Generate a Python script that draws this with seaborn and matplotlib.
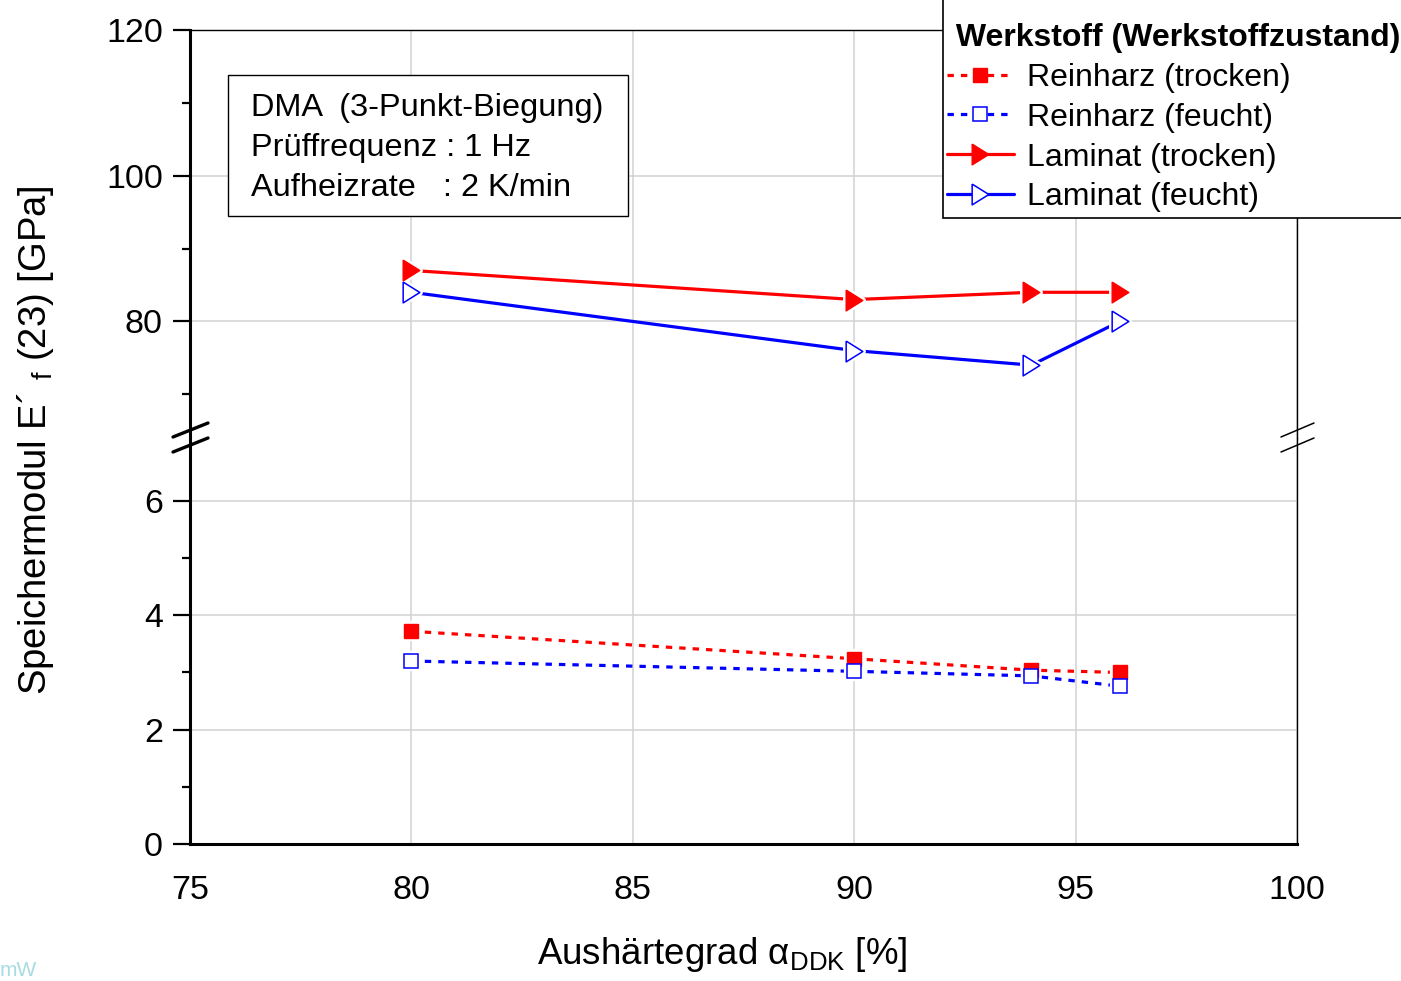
import matplotlib
matplotlib.use("Agg")
import matplotlib.pyplot as plt
from matplotlib.lines import Line2D
from matplotlib.patches import Rectangle
from matplotlib.ticker import MultipleLocator, FixedLocator
import seaborn as sns

# ---------------- data ----------------
aushaertegrad = [80, 90, 94, 96]
reinharz_trocken = [3.72, 3.24, 3.04, 3.00]
reinharz_feucht = [3.20, 3.02, 2.94, 2.76]
laminat_trocken = [87.0, 83.0, 84.0, 84.0]
laminat_feucht = [84.0, 76.0, 74.0, 80.0]

series_labels = ["Reinharz (trocken)", "Reinharz (feucht)",
                 "Laminat (trocken)", "Laminat (feucht)"]
legend_title = " Werkstoff (Werkstoffzustand)"
x_ticks = [75, 80, 85, 90, 95, 100]
y_ticks_low = [0, 2, 4, 6]
y_minor_low = [1, 3, 5]
y_ticks_up = [80, 100, 120]
y_minor_up = [70, 90, 110]
info_lines = ["DMA  (3-Punkt-Biegung)", "Prüffrequenz : 1 Hz",
              "Aufheizrate   : 2 K/min"]
x_label = "Aushärtegrad α$_{\\mathregular{DDK}}$ [%]"
y_label = "Speichermodul E´ $_{\\mathregular{f}}$ (23) [GPa]"

# ---------------- style ----------------
sns.set_theme(style="white")
plt.rcParams["font.family"] = ["Liberation Sans", "DejaVu Sans"]
plt.rcParams["mathtext.fontset"] = "custom"
plt.rcParams["mathtext.rm"] = "Liberation Sans"
plt.rcParams["mathtext.it"] = "Liberation Sans"
plt.rcParams["mathtext.default"] = "regular"
for key in ("text.color", "axes.labelcolor", "xtick.color", "ytick.color",
            "legend.labelcolor"):
    plt.rcParams[key] = "black"

W, H = 1401, 981
fig = plt.figure(figsize=(W / 100, H / 100), dpi=100)
fig.patch.set_facecolor("white")


def fx(px):
    return px / W


def fy(py):
    return 1 - py / H


L, R, T, B, BRK = 190, 1297, 30, 844, 438
ax_up = fig.add_axes([fx(L), fy(BRK), fx(R) - fx(L), fy(T) - fy(BRK)])
ax_low = fig.add_axes([fx(L), fy(B), fx(R) - fx(L), fy(BRK) - fy(B)])

RED = "#ff0000"
BLUE = "#0000ff"
tri = [(-0.8, 1.0), (0.8, 0.0), (-0.8, -1.0), (-0.8, 1.0)]
dotted = (0, (2.0, 2.2))

specs = [
    (ax_low, reinharz_trocken, RED, dotted, "s", 10.5, RED, 1.0),
    (ax_low, reinharz_feucht, BLUE, dotted, "s", 10.5, "white", 1.1),
    (ax_up, laminat_trocken, RED, "-", tri, 15, RED, 1.0),
    (ax_up, laminat_feucht, BLUE, "-", tri, 15, "white", 1.1),
]

for ax, yvals, col, ls, mk, ms, face, mew in specs:
    sns.lineplot(x=aushaertegrad, y=yvals, ax=ax, color=col, linestyle=ls,
                 linewidth=2.3, legend=False, zorder=2, errorbar=None)
    # white halo (gap of line around markers)
    sns.lineplot(x=aushaertegrad, y=yvals, ax=ax, color="white", linestyle="none",
                 marker=mk, markersize=ms, markerfacecolor="white",
                 markeredgecolor="white", markeredgewidth=4.5,
                 legend=False, zorder=3, errorbar=None)
    sns.lineplot(x=aushaertegrad, y=yvals, ax=ax, color=col, linestyle="none",
                 marker=mk, markersize=ms, markerfacecolor=face,
                 markeredgecolor=col, markeredgewidth=mew,
                 legend=False, zorder=4, errorbar=None)

# ---------------- axes ----------------
for ax in (ax_up, ax_low):
    ax.set_xlim(75, 100)
    ax.xaxis.set_major_locator(FixedLocator(x_ticks))
    ax.xaxis.set_minor_locator(MultipleLocator(2.5))
    ax.set_axisbelow(True)
    ax.grid(True, which="major", color="#d2d2d2", linewidth=1.1)
    ax.set_xlabel("")
    ax.set_ylabel("")
    ax.set_facecolor("white")
    ax.spines["left"].set_linewidth(2.2)
    ax.spines["right"].set_linewidth(1.0)
    for s in ax.spines.values():
        s.set_color("black")

ax_up.set_ylim(64, 120)
ax_up.yaxis.set_major_locator(FixedLocator(y_ticks_up))
ax_up.yaxis.set_minor_locator(FixedLocator(y_minor_up))
ax_up.spines["bottom"].set_visible(False)
ax_up.spines["top"].set_linewidth(1.0)
ax_up.tick_params(axis="x", which="both", bottom=False, labelbottom=False,
                  top=False)

ax_low.set_ylim(0, 7.1)
ax_low.yaxis.set_major_locator(FixedLocator(y_ticks_low))
ax_low.yaxis.set_minor_locator(FixedLocator(y_minor_low))
ax_low.spines["top"].set_visible(False)
ax_low.spines["bottom"].set_linewidth(2.2)
ax_low.tick_params(axis="x", which="major", direction="out", length=12,
                   width=1.6, pad=10, labelsize=24.5)
ax_low.tick_params(axis="x", which="minor", direction="out", length=7,
                   width=1.6)

for ax in (ax_up, ax_low):
    ax.tick_params(axis="y", which="major", direction="out", length=12.5,
                   width=1.6, pad=7, labelsize=24.5, left=True, right=False)
    ax.tick_params(axis="y", which="minor", direction="out", length=6,
                   width=1.6, left=True, right=False)

# ---------------- break marks ----------------
for x0, x1, lw in ((173, 208, 2.4), (1281, 1314, 1.1)):
    for dy in (0, 15):
        fig.add_artist(Line2D([fx(x0), fx(x1)], [fy(437 + dy), fy(423 + dy)],
                              color="black", linewidth=lw,
                              transform=fig.transFigure))

# ---------------- info box ----------------
fig.add_artist(Rectangle((fx(228), fy(216)), fx(628) - fx(228),
                         fy(75) - fy(216), transform=fig.transFigure,
                         facecolor="white", edgecolor="black", linewidth=1.0,
                         zorder=5))
for i, line in enumerate(info_lines):
    fig.text(fx(251), fy(116 + 40 * i), line, fontsize=23.4, va="baseline",
             ha="left", zorder=6)

# ---------------- legend ----------------
# frame (runs off the top/right edge of the figure as in the reference)
fig.add_artist(Rectangle((fx(943), fy(218)), fx(1420) - fx(943),
                         fy(-10) - fy(218), transform=fig.transFigure,
                         facecolor="white", edgecolor="black", linewidth=1.2,
                         zorder=4))
handles = []
for (_, _, col, ls, mk, ms, face, mew) in specs:
    handles.append(Line2D([], [], color=col, linestyle=ls, linewidth=2.3,
                          marker=mk, markersize=ms, markerfacecolor=face,
                          markeredgecolor=col, markeredgewidth=mew))
leg = fig.legend(handles, series_labels, title=legend_title,
                 loc="upper left", bbox_to_anchor=(fx(943), fy(19)),
                 bbox_transform=fig.transFigure, frameon=False,
                 fontsize=23,
                 title_fontproperties={"weight": "bold", "size": 23},
                 alignment="left", borderpad=0.12, handlelength=2.1,
                 handletextpad=0.42, labelspacing=0.31, borderaxespad=0,
                 numpoints=1)
leg.set_zorder(6)

# ---------------- axis labels ----------------
fig.text(fx(722), fy(964), x_label, fontsize=26.5, ha="center", va="baseline")
fig.text(fx(36), fy(440), y_label, fontsize=27.5, ha="center", va="center",
         rotation=90)

# watermark fragment
fig.text(fx(0), fy(980), "mW", fontsize=15, color="#a9dbe3", ha="left",
         va="bottom")

fig.savefig("out.png", dpi=100, facecolor="white")
